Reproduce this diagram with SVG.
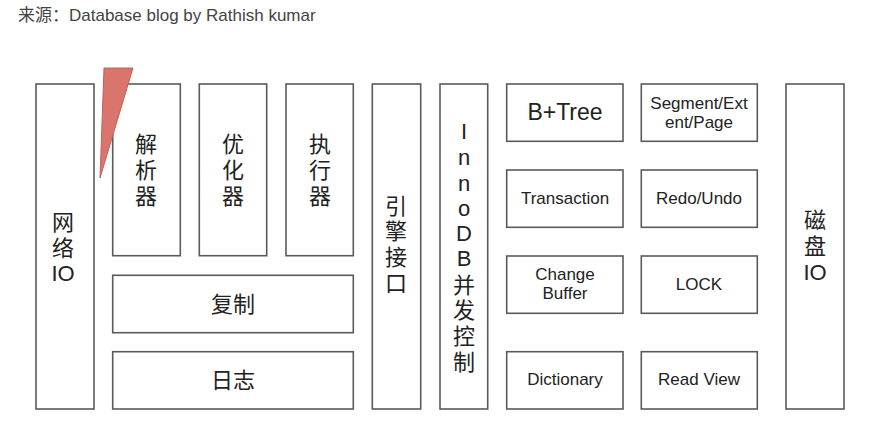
<svg xmlns="http://www.w3.org/2000/svg" width="873" height="426" viewBox="0 0 873 426">
<style>
.box{fill:#fff;stroke:#5a5a5a;stroke-width:1.6}
.cn{font-family:"Liberation Sans","Noto Sans CJK SC",sans-serif;font-size:22px;fill:#222;text-anchor:middle;dominant-baseline:central}
.en{font-family:"Liberation Sans","Noto Sans CJK SC",sans-serif;font-size:17px;fill:#222;text-anchor:middle;dominant-baseline:central}
.title{font-family:"Liberation Sans","Noto Sans CJK SC",sans-serif;font-size:17px;fill:#444}
</style>
<rect width="873" height="426" fill="#fff"/>
<text class="title" x="18" y="21">来源：Database blog by Rathish kumar</text>
<g id="net-io"><rect class="box" x="36" y="84" width="58" height="325"/>
<text class="cn" x="63" y="222">网</text><text class="cn" x="63" y="248">络</text><text class="cn" x="63" y="273">IO</text></g>
<g id="parser"><rect class="box" x="112.7" y="84" width="67.6" height="171.7"/>
<text class="cn" x="146" y="144">解</text><text class="cn" x="146" y="170">析</text><text class="cn" x="146" y="196">器</text></g>
<g id="optimizer"><rect class="box" x="199.3" y="84" width="67.4" height="171.7"/>
<text class="cn" x="233" y="144">优</text><text class="cn" x="233" y="170">化</text><text class="cn" x="233" y="196">器</text></g>
<g id="executor"><rect class="box" x="286" y="84" width="67.3" height="171.7"/>
<text class="cn" x="320" y="144">执</text><text class="cn" x="320" y="170">行</text><text class="cn" x="320" y="196">器</text></g>
<g id="replication"><rect class="box" x="112.7" y="275.3" width="240.6" height="57.4"/>
<text class="cn" x="233" y="304">复制</text></g>
<g id="log"><rect class="box" x="112.7" y="351.7" width="240.6" height="57.3"/>
<text class="cn" x="233" y="380">日志</text></g>
<g id="engine-interface"><rect class="box" x="372.3" y="84" width="48.4" height="325"/>
<text class="cn" x="396" y="206">引</text><text class="cn" x="396" y="231">擎</text><text class="cn" x="396" y="257">接</text><text class="cn" x="396" y="283">口</text></g>
<g id="innodb-concurrency"><rect class="box" x="440" y="84" width="47.7" height="325"/>
<text class="cn" x="464" y="131">I</text><text class="cn" x="464" y="157">n</text><text class="cn" x="464" y="183">n</text><text class="cn" x="464" y="208">o</text><text class="cn" x="464" y="233">D</text><text class="cn" x="464" y="258">B</text><text class="cn" x="464" y="285">并</text><text class="cn" x="464" y="310">发</text><text class="cn" x="464" y="336">控</text><text class="cn" x="464" y="362">制</text></g>
<g id="btree"><rect class="box" x="506.7" y="84" width="116.3" height="57.3"/>
<text class="en" x="565" y="112" style="font-size:23px">B+Tree</text></g>
<g id="segment"><rect class="box" x="641.3" y="84" width="116" height="57.3"/>
<text class="en" x="699" y="103">Segment/Ext</text><text class="en" x="699" y="122">ent/Page</text></g>
<g id="transaction"><rect class="box" x="506.7" y="170" width="116.3" height="57.3"/>
<text class="en" x="565" y="198">Transaction</text></g>
<g id="redo-undo"><rect class="box" x="641.3" y="170" width="116" height="57.3"/>
<text class="en" x="699" y="198">Redo/Undo</text></g>
<g id="change-buffer"><rect class="box" x="506.7" y="256" width="116.3" height="57.3"/>
<text class="en" x="565" y="274">Change</text><text class="en" x="565" y="293">Buffer</text></g>
<g id="lock"><rect class="box" x="641.3" y="256" width="116" height="57.3"/>
<text class="en" x="699" y="284">LOCK</text></g>
<g id="dictionary"><rect class="box" x="506.7" y="351.7" width="116.3" height="57.3"/>
<text class="en" x="565" y="379">Dictionary</text></g>
<g id="read-view"><rect class="box" x="641.3" y="351.7" width="116" height="57.3"/>
<text class="en" x="699" y="379">Read View</text></g>
<g id="disk-io"><rect class="box" x="786" y="84" width="58" height="325"/>
<text class="cn" x="815" y="220">磁</text><text class="cn" x="815" y="246">盘</text><text class="cn" x="815" y="272">IO</text></g>
<g id="connectors"><polygon points="104,68 133,68 100,178" fill="#d9756c" stroke="#c0625a" stroke-width="1"/></g>
</svg>
